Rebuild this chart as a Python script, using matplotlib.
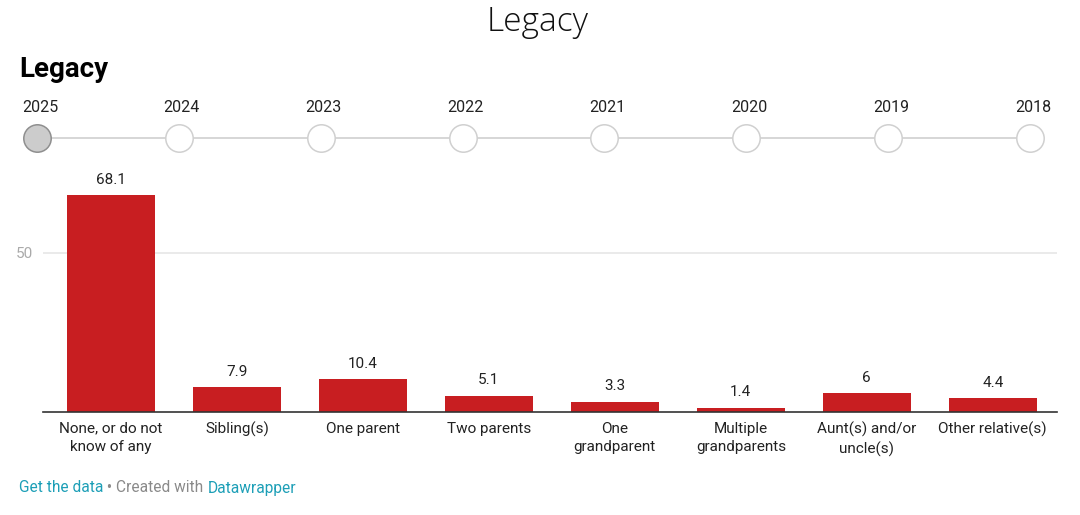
import matplotlib
matplotlib.use('Agg')
import matplotlib.pyplot as plt

plt.rcParams['font.family'] = ['Roboto', 'DejaVu Sans']

categories = ['None, or do not\nknow of any', 'Sibling(s)', 'One parent', 'Two parents',
              'One\ngrandparent', 'Multiple\ngrandparents', 'Aunt(s) and/or\nuncle(s)',
              'Other relative(s)']
values = [68.1, 7.9, 10.4, 5.1, 3.3, 1.4, 6, 4.4]
value_labels = ['68.1', '7.9', '10.4', '5.1', '3.3', '1.4', '6', '4.4']
years = ['2025', '2024', '2023', '2022', '2021', '2020', '2019', '2018']
selected_year = '2025'

W, H = 1080, 515
fig = plt.figure(figsize=(W / 100, H / 100), dpi=100)
fig.patch.set_facecolor('white')

# header texts
fig.text(538 / W, 1 - 22 / H, 'Legacy', ha='center', va='center', fontsize=24,
         family=['Open Sans', 'DejaVu Sans'], fontweight='light', color='#111111')
fig.text(19 / W, 1 - 70 / H, 'Legacy', ha='left', va='center', fontsize=20,
         fontweight='bold', color='#000000')

# year selector timeline
tl = fig.add_axes([0, 0, 1, 1])
tl.set_xlim(0, W)
tl.set_ylim(H, 0)
tl.axis('off')
x0, step = 37, (1030 - 37) / (len(years) - 1)
xs = [x0 + i * step for i in range(len(years))]
tl.plot([xs[0], xs[-1]], [138, 138], color='#cfcfcf', lw=1.2, zorder=1)
for x, yr in zip(xs, years):
    sel = yr == selected_year
    tl.scatter([x], [138], s=390, facecolor='#cccccc' if sel else 'white',
               edgecolor='#8f8f8f' if sel else '#d0d0d0', linewidth=1.1, zorder=2)
    tl.text(x + 3, 108, yr, ha='center', va='center', fontsize=11.5, color='#222222')

# bar chart
ax = fig.add_axes([43 / W, 1 - 412 / H, 1014 / W, (412 - 189.4) / H])
pos = list(range(len(categories)))
ax.bar(pos, values, width=0.7, color='#c81e21', zorder=2)
ax.set_xlim(-0.54, len(categories) - 0.5 + 0.01)
ax.set_ylim(0, 70)
for p, v, lab in zip(pos, values, value_labels):
    ax.annotate(lab, (p, v), xytext=(0, 6), textcoords='offset points',
                ha='center', va='bottom', fontsize=11, color='#222222')
ax.set_yticks([50])
ax.set_yticklabels(['50'])
ax.yaxis.grid(True, color='#e6e6e6', lw=1.2, zorder=0)
ax.tick_params(axis='y', length=0, labelsize=11, labelcolor='#aaaaaa', pad=7)
ax.set_xticks(pos)
ax.set_xticklabels(categories, fontsize=11, color='#222222', linespacing=1.35)
ax.tick_params(axis='x', length=0, pad=7)
for s in ['top', 'right', 'left']:
    ax.spines[s].set_visible(False)
ax.spines['bottom'].set_color('#333333')
ax.spines['bottom'].set_linewidth(1.2)
ax.set_facecolor('none')

# footer
fig.canvas.draw()
r = fig.canvas.get_renderer()
fy = 1 - 488 / H
parts = [('Get the data', '#1d9fb7'), (' • Created with ', '#8a8a8a'), ('Datawrapper', '#1d9fb7')]
xpos = 19
for txt, col in parts:
    t = fig.text(xpos / W, fy, txt, ha='left', va='center', fontsize=11.2, color=col)
    xpos += t.get_window_extent(r).width

fig.savefig('out.png', dpi=100, facecolor='white')
